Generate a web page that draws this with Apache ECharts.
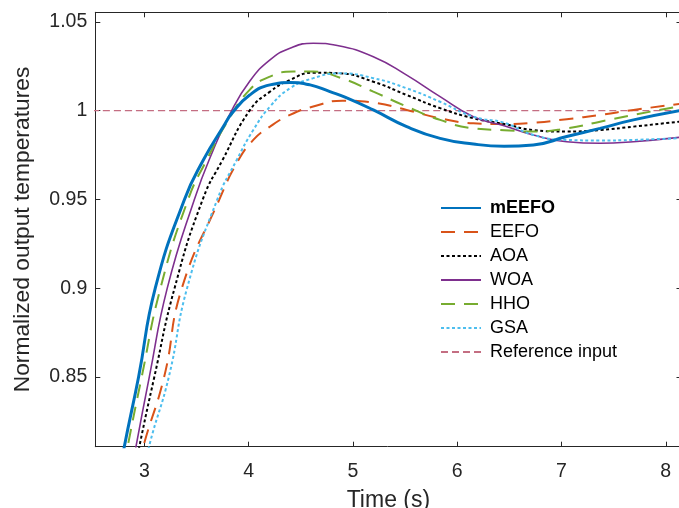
<!DOCTYPE html>
<html>
<head>
<meta charset="utf-8">
<script src="https://cdn.jsdelivr.net/npm/echarts@6/dist/echarts.min.js"></script>
<style>html,body{margin:0;padding:0;background:#fff}#c{width:679px;height:508px}</style>
</head>
<body>
<div id="c"></div>
<script>
const seriesNames = ['mEEFO', 'EEFO', 'AOA', 'WOA', 'HHO', 'GSA', 'Reference input'];
const xTicks = [3, 4, 5, 6, 7, 8];
const yTicks = [0.85, 0.9, 0.95, 1, 1.05];

const mEEFO = [[2.78,0.800],[2.808,0.8107],[2.945,0.85],[3.105,0.90],[3.385,0.95],[3.566,0.9722],[3.758,0.991],[3.84,0.9985],[4.01,1.0088],[4.205,1.0145],[4.40,1.0158],[4.59,1.0145],[4.78,1.0107],[4.93,1.0075],[5.196,1.0004],[5.516,0.991],[5.836,0.9844],[6.155,0.9812],[6.45,0.9800],[6.73,0.9807],[7.05,0.9854],[7.37,0.9900],[7.69,0.9948],[8.16,1.0003]];
const EEFO = [[2.96,0.800],[2.99,0.8107],[3.19,0.85],[3.36,0.90],[3.72,0.95],[3.886,0.9704],[4.045,0.9835],[4.205,0.991],[4.397,0.9976],[4.62,1.0023],[4.90,1.0056],[5.196,1.0045],[5.516,1.0004],[5.836,0.9957],[6.155,0.9929],[6.45,0.9925],[6.73,0.9932],[7.05,0.9952],[7.37,0.9976],[7.69,1.0004],[8.16,1.0040]];
const AOA = [[2.92,0.800],[2.952,0.8107],[3.096,0.85],[3.29,0.90],[3.56,0.95],[3.75,0.9722],[4.014,1.0004],[4.205,1.0107],[4.397,1.0173],[4.62,1.0214],[4.877,1.0210],[5.196,1.0163],[5.516,1.0088],[5.836,1.0014],[6.155,0.9957],[6.45,0.9925],[6.73,0.9891],[7.05,0.9882],[7.37,0.9891],[7.69,0.9910],[8.16,0.9940]];
const WOA = [[2.89,0.800],[2.92,0.8107],[3.048,0.85],[3.22,0.90],[3.48,0.95],[3.655,0.977],[3.83,0.9992],[4.014,1.0168],[4.205,1.0286],[4.397,1.0352],[4.62,1.0380],[4.85,1.0367],[5.196,1.0304],[5.516,1.0200],[5.836,1.0079],[6.155,0.9966],[6.45,0.9915],[6.73,0.9863],[7.05,0.9825],[7.37,0.9816],[7.69,0.9825],[8.16,0.9852]];
const HHO = [[2.81,0.800],[2.84,0.8107],[2.975,0.85],[3.155,0.90],[3.42,0.95],[3.598,0.9722],[3.806,0.9948],[4.01,1.0117],[4.205,1.0192],[4.43,1.0220],[4.62,1.0220],[4.89,1.0183],[5.196,1.0107],[5.516,1.0023],[5.836,0.9948],[6.155,0.9900],[6.45,0.9890],[6.73,0.9882],[7.05,0.9900],[7.37,0.9938],[7.69,0.9976],[8.16,1.0028]];
const GSA = [[3.02,0.800],[3.045,0.8107],[3.235,0.85],[3.41,0.90],[3.70,0.95],[3.886,0.9722],[4.045,0.9891],[4.205,1.0023],[4.397,1.0126],[4.62,1.0183],[4.877,1.0210],[5.196,1.0183],[5.516,1.0126],[5.836,1.0050],[6.155,0.9966],[6.45,0.9932],[6.73,0.9863],[7.05,0.9835],[7.37,0.9832],[7.69,0.9835],[8.16,0.9846]];
const referenceInput = [[2.5,1.0],[8.2,1.0]];

const xMin = 2.53, xMax = 8.151, yMin = 0.8107, yMax = 1.0554;
const FONT = '"Liberation Sans", Arial, Helvetica, sans-serif';
const axisColor = '#262626';

function lineSeries(name, data, color, width, type, z) {
  return {
    name: name, type: 'line', data: data, xAxisIndex: 0, yAxisIndex: 0,
    symbol: 'none', smooth: 0.5, z: z || 2,
    lineStyle: { color: color, width: width, type: type },
    itemStyle: { color: color },
    emphasis: { disabled: true }, animation: false
  };
}

const chart = echarts.init(document.getElementById('c'), null, { renderer: 'canvas' });
const baseX = {
  type: 'value', min: xMin, max: xMax, minInterval: 1, maxInterval: 1,
  axisLine: { show: true, onZero: false, lineStyle: { color: axisColor, width: 1 } },
  axisTick: { show: true, inside: true, length: 5, lineStyle: { color: axisColor } },
  splitLine: { show: false }
};
const baseY = {
  type: 'value', min: yMin, max: yMax, minInterval: 0.05, maxInterval: 0.05,
  axisLine: { show: true, onZero: false, lineStyle: { color: axisColor, width: 1 } },
  axisTick: { show: true, inside: true, length: 5, lineStyle: { color: axisColor } },
  splitLine: { show: false }
};

chart.setOption({
  animation: false,
  backgroundColor: '#fff',
  grid: { left: 95.3, top: 12.3, right: -2.5, bottom: 61.3, containLabel: false, outerBoundsMode: 'none' },
  xAxis: [
    Object.assign({}, baseX, {
      position: 'bottom',
      name: 'Time (s)', nameLocation: 'middle', nameGap: 42,
      nameTextStyle: { fontSize: 23, color: axisColor, fontFamily: FONT },
      axisLabel: { show: true, margin: 15, fontSize: 19.5, color: axisColor, fontFamily: FONT,
        showMinLabel: false, showMaxLabel: false,
        formatter: v => (xTicks.indexOf(Math.round(v*1000)/1000) >= 0 ? String(Math.round(v*1000)/1000) : '') }
    }),
    Object.assign({}, baseX, { position: 'top', axisLabel: { show: false } })
  ],
  yAxis: [
    Object.assign({}, baseY, {
      position: 'left',
      name: 'Normalized output temperatures', nameLocation: 'middle', nameGap: 61,
      nameTextStyle: { fontSize: 22.8, color: axisColor, fontFamily: FONT },
      axisLabel: { show: true, margin: 8, fontSize: 19.5, color: axisColor, fontFamily: FONT,
        showMinLabel: false, showMaxLabel: false,
        formatter: v => { const r = Math.round(v*1000)/1000; return yTicks.indexOf(r) >= 0 ? String(r) : ''; } }
    }),
    Object.assign({}, baseY, { position: 'right', axisLabel: { show: false } })
  ],
  legend: {
    orient: 'vertical', left: 440, top: 199, padding: 0,
    itemWidth: 40, itemHeight: 14, itemGap: 6,
    data: seriesNames,
    itemStyle: { opacity: 0 },
    textStyle: { fontSize: 18, color: '#000', fontFamily: FONT, padding: [0, 0, 0, 4],
      rich: { b: { fontSize: 18, fontWeight: 'bold', color: '#000', fontFamily: FONT } } },
    formatter: n => n === 'mEEFO' ? '{b|' + n + '}' : n,
    selectedMode: false, backgroundColor: 'transparent'
  },
  series: [
    lineSeries('mEEFO', mEEFO, '#0072BD', 3, 'solid', 3),
    lineSeries('EEFO', EEFO, '#D95319', 2, [14, 9]),
    lineSeries('AOA', AOA, '#000000', 2, [3, 2.5]),
    lineSeries('WOA', WOA, '#7E2F8E', 1.6, 'solid'),
    lineSeries('HHO', HHO, '#77AC30', 2, [14, 9]),
    lineSeries('GSA', GSA, '#4DBEEE', 2, [3, 2.5]),
    lineSeries('Reference input', referenceInput, '#C46E82', 1.3, [7, 4], 1)
  ]
});
</script>
</body>
</html>
